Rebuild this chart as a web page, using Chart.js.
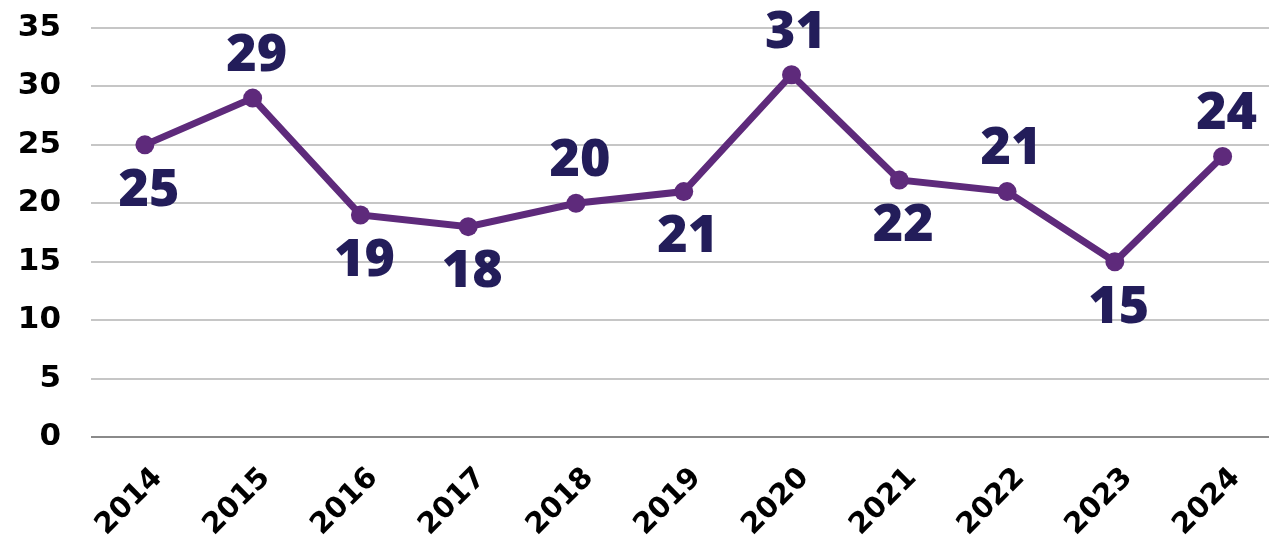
<!DOCTYPE html>
<html>
<head>
<meta charset="utf-8">
<script src="https://cdn.jsdelivr.net/npm/chart.js@4.4.0/dist/chart.umd.min.js"></script>
<style>
  html, body { margin: 0; padding: 0; background: #ffffff; overflow: hidden; }
  #wrap { width: 1286px; height: 546px; position: relative; }
</style>
</head>
<body>
<div id="wrap"><canvas id="mainChart"></canvas></div>
<script>
// data dari gambar
const years = ['2014', '2015', '2016', '2017', '2018', '2019', '2020', '2021', '2022', '2023', '2024'];
const values = [25, 29, 19, 18, 20, 21, 31, 22, 21, 15, 24];
// posisi label: atas / bawah titik
const labelSide = ['below', 'above', 'below', 'below', 'above', 'below', 'above', 'below', 'above', 'below', 'above'];

const tickFont = "'DejaVu Sans', sans-serif";
const labelFont = "'Open Sans', 'Noto Sans', sans-serif";

// plugin kecil buat nulis angka di atas/bawah titik
const valueLabels = {
    id: 'valueLabels',
    afterDatasetsDraw(chart) {
        const c = chart.ctx;
        const meta = chart.getDatasetMeta(0);
        c.save();
        c.font = "800 52px " + labelFont;
        c.fillStyle = '#231d5a';
        c.textAlign = 'center';
        c.textBaseline = 'middle';
        meta.data.forEach((pt, i) => {
            const dy = labelSide[i] === 'above' ? -42 : 46;
            c.fillText(String(values[i]), pt.x + 4, pt.y + dy);
        });
        c.restore();
    }
};

const ctx = document.getElementById('mainChart').getContext('2d');
new Chart(ctx, {
    type: 'line',
    data: {
        labels: years,
        datasets: [{
            data: values,
            borderColor: '#5e2a7b',
            backgroundColor: '#5e2a7b',
            borderWidth: 7,
            pointRadius: 9.5,
            pointHoverRadius: 9.5,
            pointBackgroundColor: '#5e2a7b',
            pointBorderWidth: 0,
            tension: 0,
            fill: false,
            clip: false
        }]
    },
    options: {
        responsive: true,
        maintainAspectRatio: false,
        animation: false,
        layout: { padding: { top: 28, right: 0, left: 0, bottom: 0 } },
        plugins: {
            legend: { display: false },
            tooltip: { enabled: false }
        },
        scales: {
            x: {
                offset: true,
                grid: { display: false, drawTicks: false },
                border: { display: false },
                afterFit: (axis) => {
                    axis.height = 109;
                    axis.paddingLeft = 0;
                    axis.paddingRight = 0;
                },
                ticks: {
                    color: '#000000',
                    font: { family: tickFont, size: 29, weight: 'bold' },
                    maxRotation: 45,
                    minRotation: 45,
                    padding: 24,
                    labelOffset: 13
                }
            },
            y: {
                min: 0,
                max: 35,
                afterFit: (axis) => {
                    axis.width = 91;
                    axis.paddingTop = 0;
                    axis.paddingBottom = 0;
                },
                border: { display: false },
                grid: {
                    drawTicks: false,
                    lineWidth: 2,
                    color: (c) => c.tick && c.tick.value === 0 ? '#8a8a8a' : '#c6c6c6'
                },
                ticks: {
                    stepSize: 5,
                    color: '#000000',
                    padding: 30,
                    font: { family: tickFont, size: 31, weight: 'bold' }
                }
            }
        }
    },
    plugins: [valueLabels]
});
</script>
</body>
</html>
